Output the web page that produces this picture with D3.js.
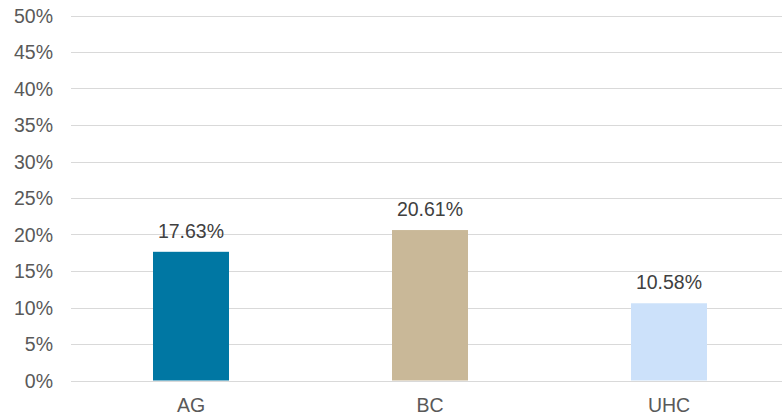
<!DOCTYPE html>
<html>
<head>
<meta charset="utf-8">
<script src="https://cdn.jsdelivr.net/npm/d3@7/dist/d3.min.js"></script>
<style>
  html, body { margin: 0; padding: 0; background: #fff; }
  svg { display: block; font-family: "Liberation Sans", Arial, sans-serif; }
</style>
</head>
<body>
<svg id="chart" width="782" height="417"></svg>
<script>
// Share by group
const categories = ["AG", "BC", "UHC"];
const values = [17.63, 20.61, 10.58];
const barColors = ["#0077A3", "#C9B898", "#CCE1FA"];
const yTicks = [0, 5, 10, 15, 20, 25, 30, 35, 40, 45, 50];

const svg = d3.select("#chart");
const W = 782;
const plotLeft = 71, plotTop = 15.5, plotBottom = 380.5;

const y = d3.scaleLinear().domain([0, 50]).range([plotBottom, plotTop]);
const x = d3.scaleBand().domain(categories).range([71.5, 788.5]).paddingInner(0.682).paddingOuter(0.341);

// gridlines
svg.append("g").selectAll("line").data(yTicks).join("line")
  .attr("x1", plotLeft).attr("x2", W)
  .attr("y1", d => Math.round(y(d)) + 0.5).attr("y2", d => Math.round(y(d)) + 0.5)
  .attr("stroke", "#D9D9D9").attr("stroke-width", 1);

// y axis labels
svg.append("g").selectAll("text").data(yTicks).join("text")
  .attr("x", 53).attr("y", d => y(d)).attr("dy", "0.36em")
  .attr("text-anchor", "end").attr("font-size", 19.5).attr("fill", "#595959")
  .text(d => d + "%");

// bars
svg.append("g").selectAll("rect").data(values).join("rect")
  .attr("x", (d, i) => x(categories[i]))
  .attr("width", x.bandwidth())
  .attr("y", d => y(d))
  .attr("height", d => y(0) - y(d))
  .attr("fill", (d, i) => barColors[i]);

// value labels
svg.append("g").selectAll("text").data(values).join("text")
  .attr("x", (d, i) => x(categories[i]) + x.bandwidth() / 2)
  .attr("y", d => y(d) - 14)
  .attr("text-anchor", "middle").attr("font-size", 19.5).attr("fill", "#404040")
  .text(d => d.toFixed(2) + "%");

// category labels
svg.append("g").selectAll("text").data(categories).join("text")
  .attr("x", d => x(d) + x.bandwidth() / 2)
  .attr("y", 411.5)
  .attr("text-anchor", "middle").attr("font-size", 19.5).attr("fill", "#595959")
  .text(d => d);
</script>
</body>
</html>
